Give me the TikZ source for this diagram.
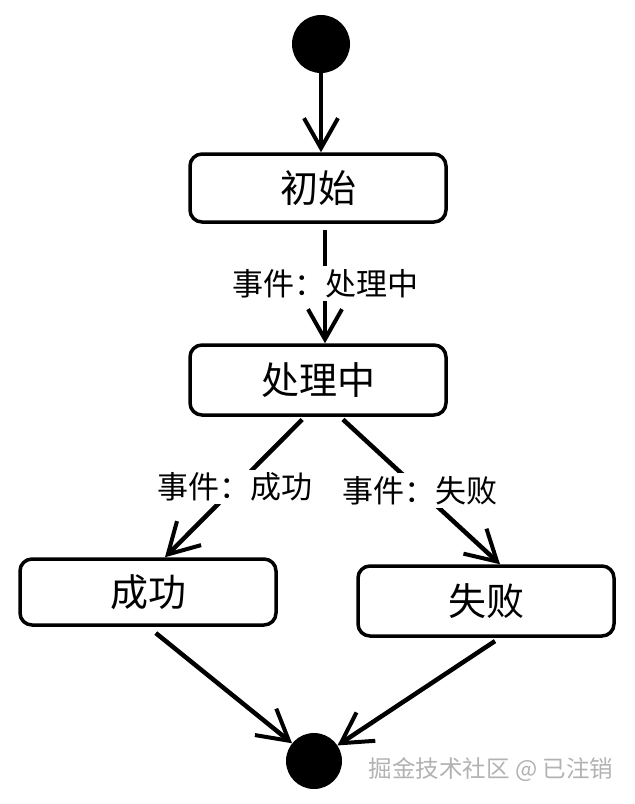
\documentclass[tikz,border=0pt]{standalone}
\usepackage{fontspec}
\setmainfont{Noto Sans CJK SC}
\usetikzlibrary{arrows.meta}

\tikzset{
  state/.style={draw, line width=3.5pt, rounded corners=12pt, minimum width=256pt, minimum height=68pt, font=\fontsize{38}{42}\selectfont},
  dot/.style={circle, fill=black, inner sep=0pt},
  trans/.style={line width=4.5pt, -{Straight Barb[length=30pt,width=34pt,line width=4pt]}},
  evt/.style={fill=white, inner sep=3pt, font=\fontsize{31}{34}\selectfont}
}

\begin{document}
\begin{tikzpicture}[x=1pt,y=-1pt]
\useasboundingbox (0,0) rectangle (635,804);
% states
\node[dot, minimum size=58pt] (start) at (321,44) {};
\node[state] (init) at (318,188) {初始};
\node[state, minimum height=70pt] (proc) at (318,380) {处理中};
\node[state, minimum height=66pt] (succ) at (148,592) {成功};
\node[state, minimum height=70pt] (fail) at (486,601) {失败};
\node[dot, minimum size=56pt] (end) at (314,761) {};

% transitions
\draw[trans] (start) -- (start |- init.north);
\draw[trans, shorten <=6pt] ([xshift=7pt]init.south) -- node[evt]{事件：处理中} ([xshift=7pt]proc.north);
\draw[trans, shorten <=4pt] ([xshift=-13pt]proc.south) -- node[evt]{事件：成功} ([xshift=17pt]succ.north);
\draw[trans, shorten <=4pt] ([xshift=22pt]proc.south) -- node[evt]{事件：失败} ([xshift=14pt]fail.north);
\draw[trans, shorten <=10pt] (succ.south) -- (end);
\draw[trans, shorten <=6pt] ([xshift=14pt]fail.south) -- (end);

\node[text=gray!60, font=\fontsize{23.5}{26}\selectfont] (mark) at (491,770) {掘金技术社区 @ 已注销};
\end{tikzpicture}
\end{document}
